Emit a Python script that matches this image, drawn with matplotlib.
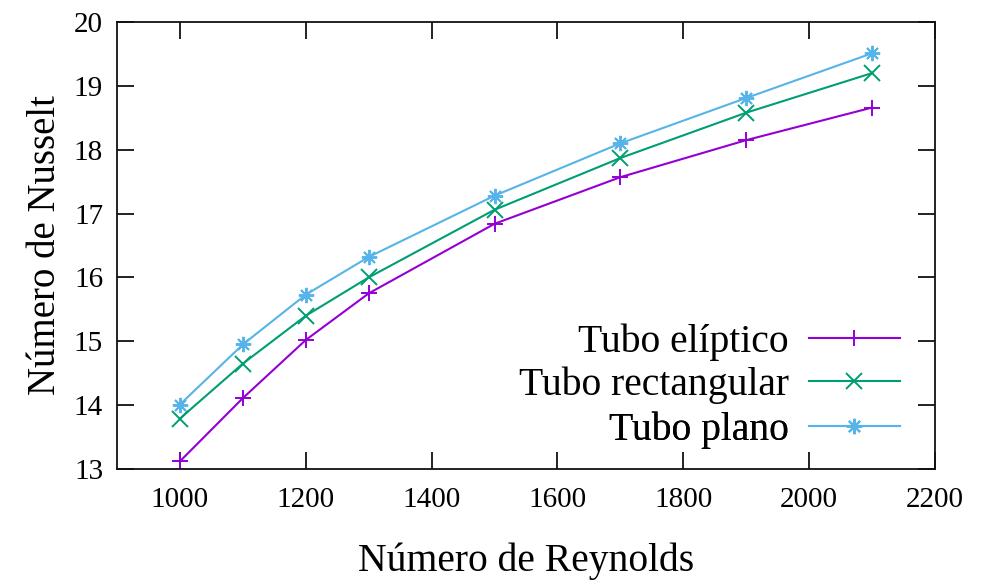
import matplotlib
matplotlib.use("Agg")
import matplotlib.pyplot as plt

reynolds = [1000, 1100, 1200, 1300, 1500, 1700, 1900, 2100]
nu_eliptico = [13.12, 14.11, 15.02, 15.75, 16.84, 17.57, 18.15, 18.66]
nu_rectangular = [13.79, 14.65, 15.40, 16.00, 17.06, 17.87, 18.58, 19.20]
nu_plano = [14.01, 14.95, 15.73, 16.32, 17.28, 18.10, 18.81, 19.51]

series_labels = ["Tubo elíptico", "Tubo rectangular", "Tubo plano"]
x_ticks = [1000, 1200, 1400, 1600, 1800, 2000, 2200]
y_ticks = [13, 14, 15, 16, 17, 18, 19, 20]

colors = ["#9400d3", "#009e73", "#56b4e9"]
markers = ["+", "x", (8, 2, 0)]

plt.rcParams["font.family"] = ["Liberation Serif", "DejaVu Serif"]

fig = plt.figure(figsize=(9.94, 5.83), dpi=100)
ax = fig.add_axes([117 / 994, 1 - 469 / 583, (935 - 117) / 994, (469 - 22) / 583])

handles = []
for ys, c, m, lab in zip([nu_eliptico, nu_rectangular, nu_plano], colors, markers, series_labels):
    h, = ax.plot(reynolds, ys, color=c, marker=m, markersize=11, markeredgewidth=1.4,
                 linewidth=1.5, label=lab)
    handles.append(h)

ax.set_xlim(900, 2200)
ax.set_ylim(13, 20)
ax.set_xticks(x_ticks)
ax.set_yticks(y_ticks)
ax.tick_params(axis="both", which="major", direction="in", length=12, width=1.3,
               color="#111111", labelsize=21, top=True, right=True)
ax.tick_params(axis="x", pad=13)
ax.tick_params(axis="y", pad=10)
for s in ax.spines.values():
    s.set_linewidth(1.3)
    s.set_color("#111111")

ax.set_xlabel("Número de Reynolds", fontsize=28.5, labelpad=21)
ax.set_ylabel("Número de Nusselt", fontsize=28, labelpad=7)

leg_y = [0.284, 0.188, 0.087]
for h, y in zip(handles, leg_y):
    lg = ax.legend(handles=[h], loc="center right", bbox_to_anchor=(0.957, y),
                   frameon=False, markerfirst=False, fontsize=28.5, handlelength=2.3,
                   handletextpad=0.5, borderpad=0, borderaxespad=0)
    ax.add_artist(lg)

fig.savefig("out.png", dpi=100)
